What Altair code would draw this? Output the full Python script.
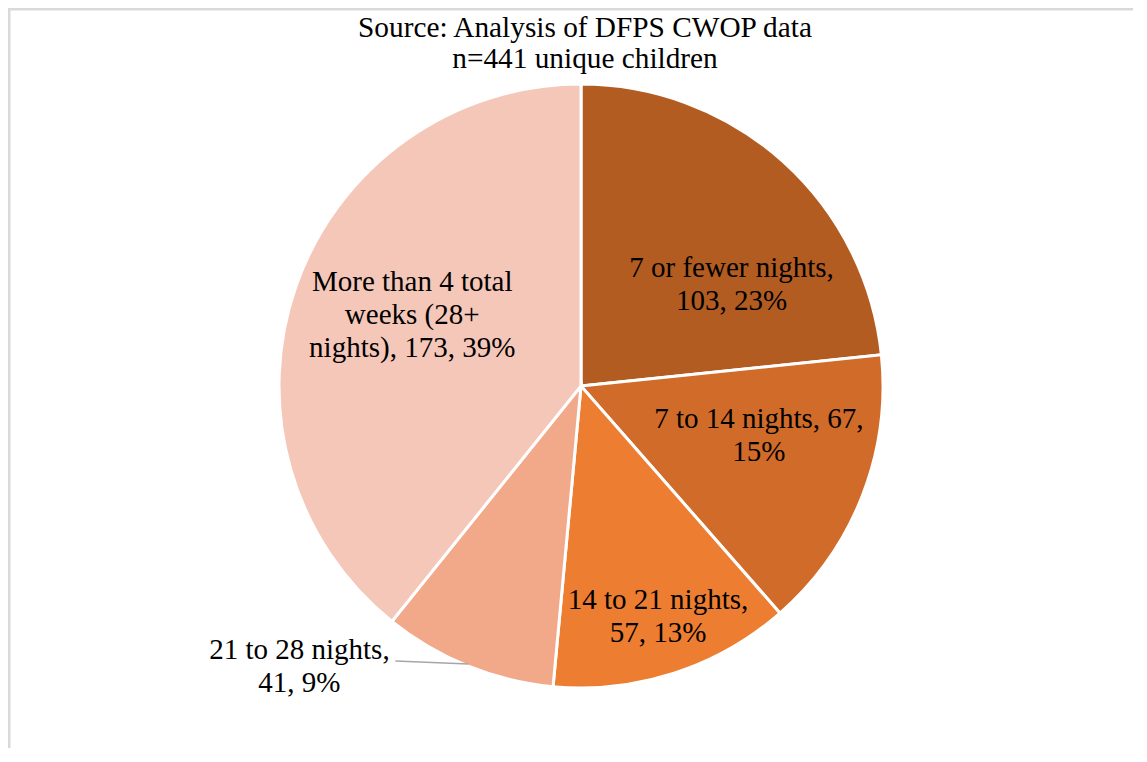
import altair as alt
import pandas as pd

# ---- data ----
categories = ["7 or fewer nights", "7 to 14 nights", "14 to 21 nights",
              "21 to 28 nights", "More than 4 total weeks (28+ nights)"]
counts = [103, 67, 57, 41, 173]
label_texts = ["7 or fewer nights,\n103, 23%",
               "7 to 14 nights, 67,\n15%",
               "14 to 21 nights,\n57, 13%",
               "21 to 28 nights,\n41, 9%",
               "More than 4 total\nweeks (28+\nnights), 173, 39%"]
colors = ["#B25C22", "#D16B2A", "#ED7D31", "#F1A98A", "#F5C7B9"]
title_lines = ["Source: Analysis of DFPS CWOP data", "n=441 unique children"]

# ---- layout (not data) ----
CX, CY, R = 573, 378, 302
FONT = "Liberation Serif"
# per-label: radius from centre, dx, dy
label_layout = [(180, 30, 16), (190, 1, -36), (240, 3, -14), (340, -154, -51), (180, 1, -44)]

total = sum(counts)
df = pd.DataFrame({"idx": list(range(len(categories))), "cat": categories,
                   "value": counts, "label": label_texts})

theta_scale = alt.Scale(domain=[0, total])
base = alt.Chart(df)

frame = alt.Chart(alt.Data(values=[{}])).mark_rect(
    fill=None, stroke="#D9D9D9", strokeWidth=2.5
).encode(x=alt.value(1.25), y=alt.value(1.25), x2=alt.value(1400), y2=alt.value(1000))

pie = base.mark_arc(outerRadius=R, stroke="white", strokeWidth=3).encode(
    theta=alt.Theta("value:Q", stack=True, scale=theta_scale),
    color=alt.Color("cat:N", scale=alt.Scale(domain=categories, range=colors), legend=None),
    order=alt.Order("idx:Q"),
    x=alt.value(CX), y=alt.value(CY),
)

with_mid = base.transform_window(
    cum="sum(value)", sort=[alt.SortField("idx", order="ascending")]
).transform_calculate(mid="datum.cum - datum.value / 2")

label_layers = []
for cat, (rad, dx, dy) in zip(categories, label_layout):
    label_layers.append(
        with_mid.transform_filter(alt.datum.cat == cat).mark_text(
            font=FONT, fontSize=29, lineHeight=33, lineBreak="\n", color="black",
            align="center", baseline="middle", radius=rad, dx=dx, dy=dy
        ).encode(
            theta=alt.Theta("mid:Q", scale=theta_scale, stack=None),
            text="label:N",
            x=alt.value(CX), y=alt.value(CY),
        )
    )

leader = with_mid.transform_filter(alt.datum.cat == categories[3]).transform_calculate(
    ex=f"{CX} + {R - 2} * sin(datum.mid / {total} * 2 * PI)",
    ey=f"{CY} - {R - 2} * cos(datum.mid / {total} * 2 * PI)",
).transform_calculate(
    sx="datum.ex - 73", sy="datum.ey - 3"
).mark_rule(color="#A6A6A6", strokeWidth=1.5).encode(
    x=alt.X("sx:Q", scale=None), y=alt.Y("sy:Q", scale=None),
    x2="ex:Q", y2="ey:Q",
)

title_layers = []
for i, line in enumerate(title_lines):
    title_layers.append(
        alt.Chart(alt.Data(values=[{"t": line}])).mark_text(
            font=FONT, fontSize=29.3, color="black", align="center", baseline="alphabetic"
        ).encode(text="t:N", x=alt.value(577), y=alt.value(29 + 31 * i))
    )

chart = alt.layer(frame, pie, leader, *label_layers, *title_layers).properties(
    width=1125, height=740, autosize=alt.AutoSizeParams(type="none"), padding=0,
    background="white",
).configure_view(stroke=None)

chart.save("out.html", embed_options={"renderer": "svg", "actions": False})
